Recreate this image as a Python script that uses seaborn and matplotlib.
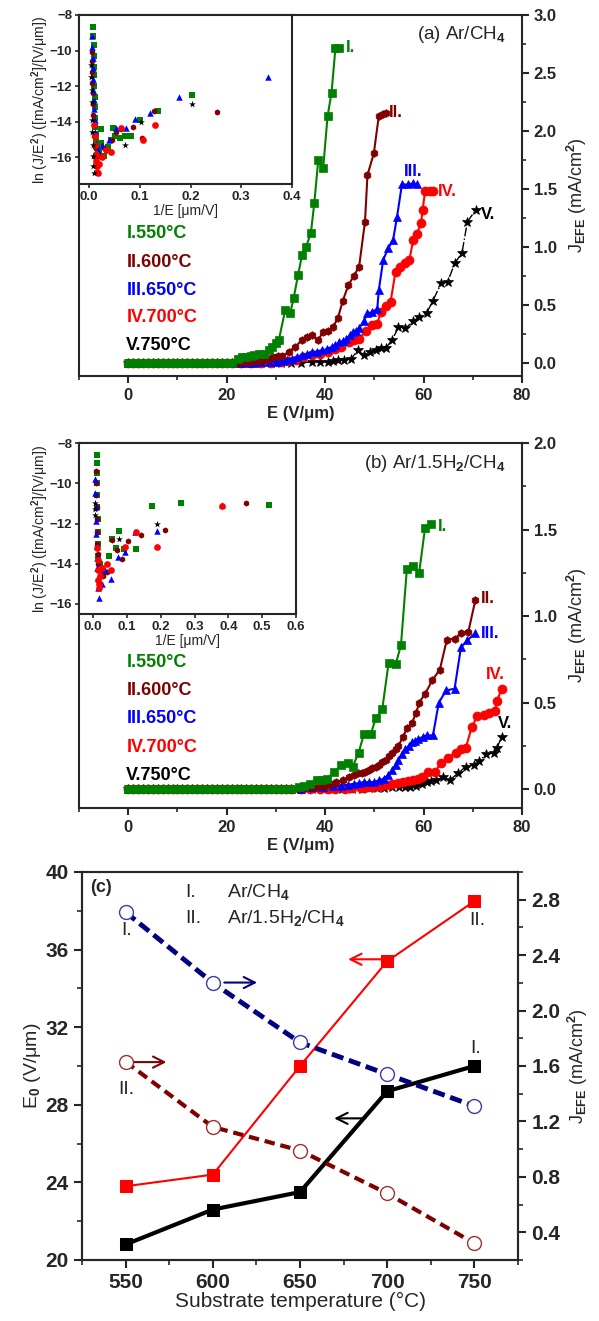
"""Field-emission curves (J vs E) for two gas mixtures plus E0 / J_EFE vs substrate temperature."""
import matplotlib

matplotlib.use("Agg")
import matplotlib.pyplot as plt
import seaborn as sns
from matplotlib.ticker import MultipleLocator

sns.set_style("ticks")
plt.rcParams["font.family"] = ["Liberation Sans", "DejaVu Sans"]
plt.rcParams["font.weight"] = "bold"
plt.rcParams["mathtext.fontset"] = "custom"
plt.rcParams["mathtext.rm"] = "Liberation Sans"
plt.rcParams["mathtext.bf"] = "Liberation Sans:bold"
plt.rcParams["axes.linewidth"] = 1.5

# --------------------------------------------------------------------------- #
# Data
# --------------------------------------------------------------------------- #
# flat (J ~ 0) part shared by all curves
E_FLAT_A = [0, 1, 2, 3, 4, 5, 6, 7, 8, 9, 10, 11, 12, 13, 14, 15, 16, 17, 18, 19, 20, 21]
J_FLAT_A = [0.0, 0.0, 0.0, 0.0, 0.0, 0.0, 0.0, 0.0, 0.0, 0.0, 0.0,
            0.0, 0.0, 0.0, 0.0, 0.0, 0.0, 0.0, 0.0, 0.0, 0.0, 0.0]
E_FLAT_B = [0, 1, 2, 3, 4, 5, 6, 7, 8, 9, 10, 11, 12, 13, 14, 15, 16,
            17, 18, 19, 20, 21, 22, 23, 24, 25, 26, 27, 28, 29, 30, 31, 32, 33]
J_FLAT_B = [0.0, 0.0, 0.0, 0.0, 0.0, 0.0, 0.0, 0.0, 0.0, 0.0, 0.0, 0.0, 0.0, 0.0, 0.0, 0.0, 0.0,
            0.0, 0.0, 0.0, 0.0, 0.0, 0.0, 0.0, 0.0, 0.0, 0.0, 0.0, 0.0, 0.0, 0.0, 0.0, 0.0, 0.0]

# (a) Ar/CH4 rising parts
a1_e = [22.3, 23.2, 24.0, 25.0, 25.6, 26.6, 27.6, 28.5, 29.3, 30.0, 30.6, 31.9, 32.9, 33.6, 34.5,
        35.3, 36.1, 37.1, 37.8, 38.6, 39.6, 40.5, 41.3, 42.1, 42.9]
a1_j = [0.04, 0.05, 0.055, 0.06, 0.07, 0.08, 0.08, 0.11, 0.14, 0.17, 0.20, 0.46, 0.43, 0.56, 0.76,
        0.93, 1.00, 1.12, 1.38, 1.75, 1.68, 2.13, 2.33, 2.72, 2.72]
a2_e = [22.5, 23.5, 24.5, 25.5, 26.5, 27.5, 28.5, 29.5, 30.5, 31.3, 32.6, 33.9, 35.3, 36.3, 37.3,
        38.6, 39.6, 40.6, 41.6, 42.6, 43.6, 44.7, 45.8, 46.9, 48.1, 48.6, 49.9, 50.9, 51.8, 52.3]
a2_j = [0.005, 0.01, 0.012, 0.015, 0.02, 0.03, 0.04, 0.05, 0.06, 0.06, 0.10, 0.14, 0.20, 0.23, 0.24,
        0.20, 0.27, 0.28, 0.31, 0.39, 0.54, 0.67, 0.75, 0.83, 1.22, 1.62, 1.81, 2.13, 2.15, 2.16]
a3_e = [22.5, 24.0, 25.5, 27.0, 28.5, 30.0, 31.3, 32.3, 33.3, 34.3, 35.3, 36.3, 37.3, 38.3, 39.3,
        40.3, 41.3, 42.1, 42.9, 43.6, 44.3, 45.0, 45.6, 46.3, 46.9, 47.8, 48.6, 49.6, 50.6, 50.9,
        51.8, 52.8, 53.8, 54.6, 55.6, 56.8, 57.8, 58.6]
a3_j = [0.0, 0.005, 0.005, 0.01, 0.01, 0.01, 0.02, 0.03, 0.04, 0.05, 0.07, 0.08, 0.10, 0.10, 0.11,
        0.12, 0.14, 0.16, 0.18, 0.19, 0.21, 0.24, 0.27, 0.28, 0.30, 0.36, 0.43, 0.44, 0.47, 0.63,
        0.89, 0.99, 1.06, 1.26, 1.54, 1.54, 1.55, 1.54]
a4_e = [23.0, 25.0, 27.0, 29.0, 31.0, 32.5, 34.0, 35.5, 37.3, 39.0, 40.6, 42.0, 43.3, 44.9, 45.9,
        46.9, 48.3, 49.6, 50.6, 51.3, 52.3, 53.3, 54.3, 55.3, 56.3, 57.1, 57.9, 58.6, 59.5, 59.8,
        60.3, 61.3, 61.9]
a4_j = [0.0, 0.0, 0.005, 0.005, 0.01, 0.02, 0.03, 0.05, 0.07, 0.08, 0.10, 0.12, 0.14, 0.18, 0.20,
        0.21, 0.28, 0.33, 0.34, 0.44, 0.49, 0.53, 0.79, 0.83, 0.86, 0.89, 1.06, 1.11, 1.21, 1.32,
        1.48, 1.48, 1.48]
a5_e = [23.0, 25.0, 27.0, 29.0, 31.0, 33.0, 35.0, 37.3, 39.0, 40.6, 41.6, 42.6, 43.9, 45.3, 46.6,
        47.9, 49.1, 50.3, 51.3, 52.3, 53.6, 54.9, 56.3, 57.9, 59.1, 60.6, 61.9, 63.6, 64.9, 66.3,
        67.8, 68.9, 70.6]
a5_j = [0.0, 0.0, 0.0, 0.0, 0.0, 0.005, 0.005, 0.01, 0.01, 0.01, 0.02, 0.03, 0.03, 0.04, 0.11,
        0.07, 0.10, 0.11, 0.13, 0.13, 0.20, 0.31, 0.30, 0.36, 0.40, 0.43, 0.54, 0.69, 0.70, 0.86,
        0.95, 1.22, 1.32]

# (b) Ar/1.5H2/CH4 rising parts
b1_e = [34.6, 35.8, 36.9, 38.3, 39.3, 40.3, 41.9, 43.3, 44.6, 45.6, 46.8, 47.9, 49.3, 50.3, 51.6,
        52.9, 54.3, 55.4, 56.6, 57.9, 59.1, 60.3, 61.6]
b1_j = [0.01, 0.02, 0.03, 0.05, 0.05, 0.06, 0.10, 0.14, 0.15, 0.13, 0.21, 0.32, 0.32, 0.41, 0.46,
        0.73, 0.72, 0.83, 1.27, 1.29, 1.25, 1.51, 1.53]
b2_e = [34.5, 36.0, 37.3, 38.6, 40.0, 41.2, 42.3, 43.6, 44.9, 45.8, 46.6, 47.4, 48.1, 48.9, 49.6,
        50.3, 50.9, 51.6, 52.3, 53.0, 53.6, 54.3, 54.9, 55.8, 56.6, 57.6, 58.5, 59.1, 60.3, 61.8,
        63.3, 64.7, 66.3, 67.6, 69.1, 70.5]
b2_j = [0.0, 0.005, 0.01, 0.01, 0.02, 0.03, 0.04, 0.05, 0.07, 0.08, 0.09, 0.095, 0.10, 0.11, 0.12,
        0.13, 0.14, 0.155, 0.17, 0.19, 0.21, 0.23, 0.25, 0.30, 0.35, 0.38, 0.44, 0.50, 0.55, 0.63,
        0.69, 0.86, 0.87, 0.90, 0.91, 1.09]
b3_e = [35.0, 37.3, 39.5, 41.5, 43.3, 44.6, 45.9, 46.9, 47.9, 48.9, 49.9, 50.9, 51.9, 52.8, 53.6,
        54.3, 54.9, 55.6, 56.3, 57.0, 57.6, 58.3, 58.9, 59.8, 60.6, 61.9, 63.1, 64.6, 66.3, 67.6,
        68.9, 70.5]
b3_j = [0.0, 0.01, 0.01, 0.015, 0.02, 0.025, 0.03, 0.035, 0.04, 0.04, 0.04, 0.05, 0.06, 0.08, 0.11,
        0.14, 0.17, 0.20, 0.23, 0.25, 0.27, 0.28, 0.29, 0.30, 0.31, 0.31, 0.50, 0.57, 0.58, 0.82,
        0.86, 0.90]
b4_e = [35.0, 37.0, 39.0, 40.6, 42.0, 44.0, 45.5, 47.3, 48.5, 49.5, 50.4, 51.3, 52.5, 53.6, 54.8,
        55.9, 56.9, 57.9, 58.8, 59.6, 60.9, 62.3, 63.6, 64.9, 66.5, 67.6, 68.6, 69.8, 70.9, 72.3,
        73.3, 74.5, 74.9, 75.9]
b4_j = [0.0, 0.0, 0.0, 0.0, 0.0, 0.0, 0.005, 0.005, 0.01, 0.01, 0.015, 0.02, 0.025, 0.03, 0.035,
        0.04, 0.045, 0.05, 0.06, 0.07, 0.10, 0.10, 0.15, 0.18, 0.21, 0.23, 0.24, 0.36, 0.42, 0.43,
        0.44, 0.45, 0.51, 0.58]
b5_e = [35.0, 37.3, 39.5, 41.5, 43.5, 45.5, 47.5, 49.0, 50.6, 52.0, 53.5, 55.0, 56.2, 57.3, 58.5,
        59.6, 60.6, 61.6, 62.6, 63.9, 65.3, 66.9, 68.6, 70.3, 71.3, 72.6, 74.3, 74.9, 75.9]
b5_j = [0.0, 0.0, 0.0, 0.0, 0.0, 0.0, 0.0, 0.005, 0.005, 0.005, 0.01, 0.01, 0.01, 0.01, 0.02,
        0.03, 0.04, 0.045, 0.05, 0.07, 0.05, 0.09, 0.13, 0.14, 0.16, 0.20, 0.21, 0.24, 0.30]

# F-N insets: 1/E [um/V] vs ln(J/E^2)
ia1_x = [0.008, 0.008, 0.009, 0.009, 0.010, 0.010, 0.010, 0.011, 0.011, 0.012, 0.012, 0.013, 0.014,
         0.015, 0.017, 0.019, 0.023, 0.023, 0.030, 0.037, 0.043, 0.047, 0.050, 0.060, 0.070, 0.083,
         0.100, 0.135, 0.203]
ia1_y = [-8.7, -9.2, -9.7, -10.3, -10.9, -11.4, -12.0, -12.6, -13.2, -13.8, -14.3, -14.7, -15.1,
         -15.5, -15.8, -15.6, -14.4, -15.2, -15.9, -15.4, -15.0, -14.35, -14.8, -14.9, -14.8, -14.8,
         -13.9, -13.4, -12.5]
ia2_x = [0.005, 0.005, 0.006, 0.006, 0.007, 0.007, 0.008, 0.009, 0.010, 0.011, 0.012, 0.014, 0.016,
         0.020, 0.030, 0.045, 0.053, 0.063, 0.087, 0.105, 0.127, 0.252]
ia2_y = [-10.1, -10.6, -11.2, -11.8, -12.4, -13.0, -13.6, -14.2, -14.8, -15.4, -16.0, -16.5, -16.3,
         -15.9, -15.5, -15.0, -14.6, -14.4, -14.3, -14.9, -13.4, -13.45]
ia3_x = [0.006, 0.006, 0.007, 0.007, 0.008, 0.008, 0.009, 0.010, 0.011, 0.012, 0.014, 0.018, 0.025,
         0.040, 0.053, 0.073, 0.090, 0.120, 0.177, 0.353]
ia3_y = [-9.2, -9.8, -10.4, -11.0, -11.6, -12.2, -12.8, -13.3, -13.9, -14.6, -15.2, -15.6, -15.3,
         -15.0, -14.35, -14.35, -13.85, -13.5, -12.6, -11.5]
ia4_x = [0.010, 0.011, 0.012, 0.013, 0.014, 0.015, 0.016, 0.018, 0.020, 0.025, 0.033, 0.043, 0.063,
         0.107, 0.129]
ia4_y = [-14.2, -14.8, -15.3, -15.8, -16.2, -16.5, -16.8, -16.9, -16.4, -16.0, -15.6, -15.7, -14.35,
         -15.0, -14.2]
ia5_x = [0.004, 0.004, 0.005, 0.005, 0.006, 0.006, 0.007, 0.007, 0.008, 0.009, 0.070, 0.102, 0.203]
ia5_y = [-10.8, -11.5, -12.2, -12.9, -13.9, -14.6, -15.3, -15.9, -16.5, -16.9, -15.3, -14.0, -13.0]

ib1_x = [0.010, 0.010, 0.011, 0.011, 0.012, 0.012, 0.013, 0.013, 0.014, 0.015, 0.020, 0.030, 0.047,
         0.057, 0.066, 0.075, 0.090, 0.127, 0.173, 0.260, 0.520]
ib1_y = [-8.6, -9.0, -9.5, -10.0, -10.6, -11.2, -11.8, -12.4, -13.0, -13.6, -14.0, -14.4, -13.6,
         -12.75, -13.2, -12.35, -13.25, -13.25, -11.15, -11.0, -11.1]
ib2_x = [0.008, 0.008, 0.009, 0.010, 0.010, 0.011, 0.012, 0.013, 0.015, 0.020, 0.030, 0.040, 0.057,
         0.070, 0.085, 0.104, 0.140, 0.212, 0.453]
ib2_y = [-9.4, -10.0, -10.6, -11.2, -11.8, -12.4, -13.0, -13.5, -14.0, -14.3, -14.6, -14.4, -12.8,
         -13.3, -13.75, -12.85, -12.55, -12.3, -11.0]
ib3_x = [0.005, 0.006, 0.007, 0.008, 0.009, 0.010, 0.011, 0.012, 0.013, 0.015, 0.018, 0.025, 0.035,
         0.054, 0.074, 0.094, 0.125, 0.189, 0.380]
ib3_y = [-9.8, -10.5, -11.2, -11.9, -12.5, -13.1, -13.7, -14.2, -14.7, -15.2, -15.7, -15.0, -14.3,
         -14.75, -13.65, -13.4, -12.4, -12.35, -11.1]
ib4_x = [0.012, 0.013, 0.014, 0.015, 0.016, 0.018, 0.020, 0.025, 0.040, 0.052, 0.094, 0.127, 0.189,
         0.380]
ib4_y = [-13.2, -13.8, -14.3, -14.8, -15.2, -15.0, -14.6, -14.2, -14.0, -14.3, -13.15, -12.4, -13.15,
         -11.15]
ib5_x = [0.005, 0.005, 0.006, 0.075, 0.189]
ib5_y = [-11.0, -11.3, -11.6, -12.75, -12.0]

# (c) vs substrate temperature
temps = [550, 600, 650, 700, 750]
e0_ar = [20.8, 22.6, 23.5, 28.7, 30.0]
e0_h2 = [23.8, 24.4, 30.0, 35.4, 38.5]
jefe_ar = [2.71, 2.20, 1.77, 1.54, 1.31]
jefe_h2 = [1.63, 1.16, 0.99, 0.68, 0.32]

series_names = ["I.", "II.", "III.", "IV.", "V."]
temp_labels = ["I.550\u00b0C", "II.600\u00b0C", "III.650\u00b0C", "IV.700\u00b0C", "V.750\u00b0C"]

GREEN, MAROON, BLUE, RED, BLACK = "#008000", "#800000", "#0000ff", "#ff0000", "#000000"
COLORS = [GREEN, MAROON, BLUE, RED, BLACK]
# marker, size, linestyle, linewidth
STYLES = [("s", 5.5, "-", 1.5), ("h", 5.5, "-", 1.5), ("^", 6, "-", 1.5),
          ("o", 6.5, "-", 1.5), ("*", 7.5, "-.", 1.0)]


# --------------------------------------------------------------------------- #
# Helpers
# --------------------------------------------------------------------------- #
def main_panel(ax, curves, ymax, title, tag_pos, legend_y):
    # draw black first so green ends up on top of the flat band
    for (e, j), color, (mk, ms, ls, lw) in reversed(list(zip(curves, COLORS, STYLES))):
        sns.lineplot(x=e, y=j, ax=ax, color=color, marker=mk, markersize=ms,
                     markeredgecolor=color, markeredgewidth=0.5, linestyle=ls, linewidth=lw,
                     estimator=None, sort=False, legend=False)
    ax.set_xlim(-10, 80)
    ax.set_ylim(-0.11, ymax)
    ax.xaxis.set_major_locator(MultipleLocator(20))
    ax.xaxis.set_minor_locator(MultipleLocator(10))
    ax.yaxis.set_major_locator(MultipleLocator(0.5))
    ax.yaxis.set_minor_locator(MultipleLocator(0.25))
    ax.yaxis.tick_right()
    ax.yaxis.set_label_position("right")
    ax.tick_params(which="major", labelsize=12, width=1.5, length=5)
    ax.tick_params(which="minor", width=1.2, length=3)
    ax.tick_params(axis="y", which="both", left=False, right=True)
    for s in ax.spines.values():
        s.set_visible(True)
    ax.set_xlabel("E (V/\u03bcm)", fontsize=12, fontweight="bold", labelpad=2)
    ax.set_ylabel("J$_{\\rm EFE}$ (mA/cm$^2$)", fontsize=13, fontweight="normal", labelpad=6)
    ax.text(0.962, 0.945, title, transform=ax.transAxes, ha="right", va="center",
            fontsize=13.5, fontweight="normal")
    for name, color, (tx, ty) in zip(series_names, COLORS, tag_pos):
        ax.text(tx, ty, name, color=color, fontsize=12, ha="left", va="center")
    for lab, color, ly in zip(temp_labels, COLORS, legend_y):
        ax.text(-0.4, ly, lab, color=color, fontsize=13, ha="left", va="center")


def inset_panel(ax, pts, xlim, ylim, xticks):
    for (x, y), color, (mk, ms, _, _) in zip(pts, COLORS, STYLES):
        sns.scatterplot(x=x, y=y, ax=ax, color=color, marker=mk, s=ms * 3.6,
                        linewidth=0, legend=False, zorder=3)
    ax.set_facecolor("white")
    ax.set_xlim(*xlim)
    ax.set_ylim(*ylim)
    ax.set_xticks(xticks)
    ax.set_yticks([-16, -14, -12, -10, -8])
    ax.tick_params(labelsize=9.5, width=1.2, length=3, pad=2)
    for s in ax.spines.values():
        s.set_visible(True)
        s.set_linewidth(1.5)
    ax.set_xlabel("1/E [\u03bcm/V]", fontsize=10, labelpad=1)
    ax.set_ylabel("ln (J/E$^{\\mathbf{2}}$) ([mA/cm$^{\\mathbf{2}}$]/[V/\u03bcm])",
                  fontsize=10.2, labelpad=-1)


# --------------------------------------------------------------------------- #
# Figure
# --------------------------------------------------------------------------- #
fig = plt.figure(figsize=(5.99, 13.21), dpi=100)

curves_a = [(E_FLAT_A + a1_e, J_FLAT_A + a1_j), (E_FLAT_A + a2_e, J_FLAT_A + a2_j),
            (E_FLAT_A + a3_e, J_FLAT_A + a3_j), (E_FLAT_A + a4_e, J_FLAT_A + a4_j),
            (E_FLAT_A + a5_e, J_FLAT_A + a5_j)]
curves_b = [(E_FLAT_B + b1_e, J_FLAT_B + b1_j), (E_FLAT_B + b2_e, J_FLAT_B + b2_j),
            (E_FLAT_B + b3_e, J_FLAT_B + b3_j), (E_FLAT_B + b4_e, J_FLAT_B + b4_j),
            (E_FLAT_B + b5_e, J_FLAT_B + b5_j)]

ax_a = fig.add_axes([0.1319, 0.7154, 0.7396, 0.2732])
main_panel(ax_a, curves_a, 3.0, "(a) Ar/CH$_4$",
           [(44.2, 2.72), (53.0, 2.16), (56.0, 1.65), (63.0, 1.48), (71.6, 1.28)],
           [1.12, 0.87, 0.63, 0.39, 0.15])
ins_a = fig.add_axes([0.1319, 0.8607, 0.3556, 0.128])
inset_panel(ins_a, [(ia1_x, ia1_y), (ia2_x, ia2_y), (ia3_x, ia3_y), (ia4_x, ia4_y), (ia5_x, ia5_y)],
            (-0.02, 0.4), (-17.5, -8), [0.0, 0.1, 0.2, 0.3, 0.4])

ax_b = fig.add_axes([0.1319, 0.3883, 0.7396, 0.2763])
main_panel(ax_b, curves_b, 2.0, "(b) Ar/1.5H$_2$/CH$_4$",
           [(63.0, 1.52), (71.6, 1.10), (71.6, 0.90), (72.6, 0.66), (75.0, 0.38)],
           [0.73, 0.57, 0.41, 0.24, 0.08])
ins_b = fig.add_axes([0.1319, 0.5352, 0.3623, 0.1294])
inset_panel(ins_b, [(ib1_x, ib1_y), (ib2_x, ib2_y), (ib3_x, ib3_y), (ib4_x, ib4_y), (ib5_x, ib5_y)],
            (-0.042, 0.6), (-16.5, -8), [0.0, 0.1, 0.2, 0.3, 0.4, 0.5, 0.6])

# (c)
ax_c = fig.add_axes([0.1369, 0.0462, 0.7279, 0.2937])
tw = ax_c.twinx()
sns.lineplot(x=temps, y=e0_h2, ax=ax_c, color=RED, linewidth=1.5, marker="s", markersize=9,
             markeredgecolor=RED, estimator=None, sort=False, legend=False)
sns.lineplot(x=temps, y=e0_ar, ax=ax_c, color=BLACK, linewidth=3, marker="s", markersize=9,
             markeredgecolor=BLACK, estimator=None, sort=False, legend=False)
sns.lineplot(x=temps, y=jefe_ar, ax=tw, color="#000080", linewidth=3.5, linestyle=(0, (2.5, 1.2)),
             marker="o", markersize=10, markerfacecolor="white", markeredgecolor="#3a3ab0",
             markeredgewidth=1.0, estimator=None, sort=False, legend=False)
sns.lineplot(x=temps, y=jefe_h2, ax=tw, color="#800000", linewidth=3, linestyle=(0, (2.5, 1.4)),
             marker="o", markersize=10, markerfacecolor="white", markeredgecolor="#a03030",
             markeredgewidth=1.0, estimator=None, sort=False, legend=False)

ax_c.set_xlim(525, 775)
ax_c.set_ylim(20, 40)
tw.set_ylim(0.2, 3.0)
ax_c.xaxis.set_major_locator(MultipleLocator(50))
ax_c.xaxis.set_minor_locator(MultipleLocator(25))
ax_c.yaxis.set_major_locator(MultipleLocator(4))
ax_c.yaxis.set_minor_locator(MultipleLocator(2))
tw.yaxis.set_major_locator(MultipleLocator(0.4))
tw.yaxis.set_minor_locator(MultipleLocator(0.2))
for a in (ax_c, tw):
    a.tick_params(which="major", labelsize=15, width=1.5, length=6)
    a.tick_params(which="minor", width=1.2, length=3.5)
    for s in a.spines.values():
        s.set_visible(True)
ax_c.set_xlabel("Substrate temperature (\u00b0C)", fontsize=15, fontweight="normal", labelpad=0)
ax_c.set_ylabel("E$_0$ (V/\u03bcm)", fontsize=14, fontweight="normal", labelpad=2)
tw.set_ylabel("J$_{\\rm EFE}$ (mA/cm$^2$)", fontsize=13, fontweight="normal", labelpad=4)

ax_c.text(529.5, 39.2, "(c)", fontsize=13, ha="left", va="center")
ax_c.text(584, 38.95, "I.", fontsize=14, fontweight="normal", ha="left", va="center")
ax_c.text(608, 38.95, "Ar/CH$_4$", fontsize=14, fontweight="normal", ha="left", va="center")
ax_c.text(584, 37.6, "II.", fontsize=14, fontweight="normal", ha="left", va="center")
ax_c.text(608, 37.6, "Ar/1.5H$_2$/CH$_4$", fontsize=14, fontweight="normal", ha="left", va="center")
for tx, ty, t in [(550.5, 37.0, "I."), (550.5, 28.8, "II."), (751.5, 37.5, "II."), (750.5, 30.9, "I.")]:
    ax_c.text(tx, ty, t, fontsize=14, fontweight="normal", ha="center", va="center")

arrow_kw = dict(arrowstyle="->", lw=1.5, mutation_scale=20)
for (x0, x1, y, c) in [(605, 627, 34.3, "#000080"), (553, 575, 30.2, "#800000"),
                       (700, 676, 35.5, RED), (689, 668, 27.3, BLACK)]:
    ax_c.annotate("", xy=(x1, y), xytext=(x0, y), arrowprops=dict(color=c, **arrow_kw), zorder=5)

fig.savefig("out.png", dpi=100)
